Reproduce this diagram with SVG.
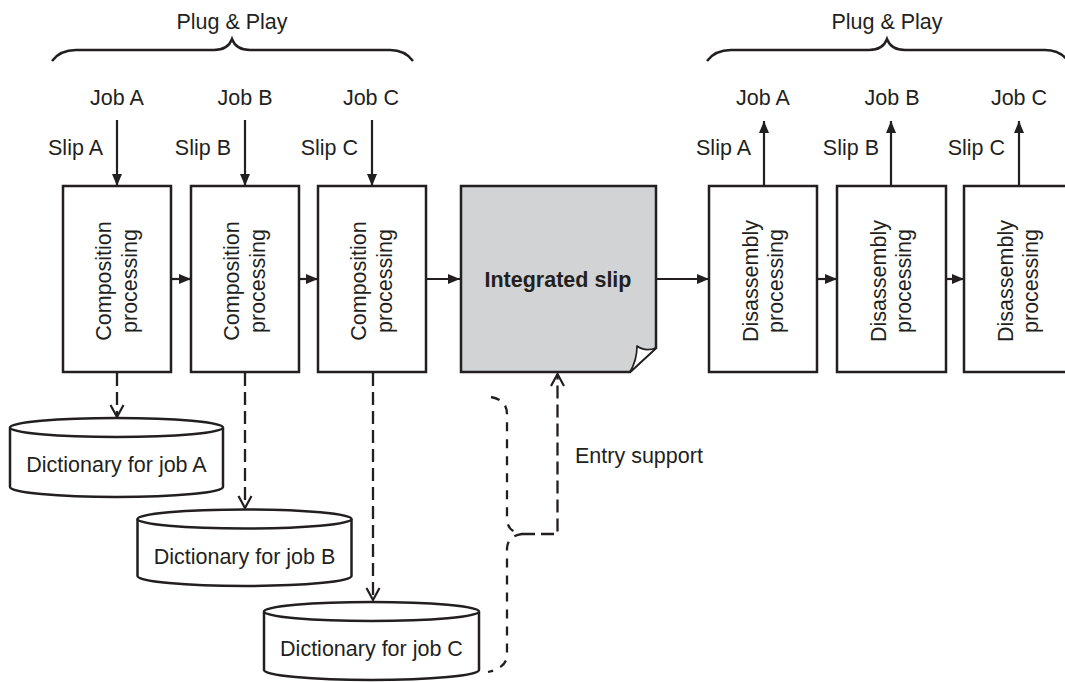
<svg xmlns="http://www.w3.org/2000/svg" width="1065" height="682" viewBox="0 0 1065 682">
<style>
text{font-family:"Liberation Sans",Arial,Helvetica,sans-serif;font-size:21.5px;fill:#231f20}
.mid{text-anchor:middle}
.end{text-anchor:end}
.box{fill:#fff;stroke:#231f20;stroke-width:2.5}
.ln{fill:none;stroke:#231f20;stroke-width:2.2}
.dash{fill:none;stroke:#231f20;stroke-width:2.3;stroke-dasharray:13 6}
.bdash{fill:none;stroke:#231f20;stroke-width:2.3;stroke-dasharray:9 8}
.brace{fill:none;stroke:#231f20;stroke-width:2.4}
</style>
<defs>
<marker id="arr" markerUnits="userSpaceOnUse" markerWidth="12" markerHeight="10" refX="12" refY="5" orient="auto">
<path d="M0,0 L12,5 L0,10 Z" fill="#231f20"/>
</marker>
<marker id="open" markerUnits="userSpaceOnUse" markerWidth="16" markerHeight="16" refX="13" refY="8" orient="auto">
<path d="M1,1.5 L13,8 L1,14.5" fill="none" stroke="#231f20" stroke-width="2.2"/>
</marker>
</defs>

<g id="braces">
<path class="brace" d="M52,61 Q60,50 76,50 L214,50 Q228,50 232,39 Q236,50 250,50 L390,50 Q405,50 413,61"/>
<text class="mid" x="232" y="29">Plug &amp; Play</text>
<path class="brace" d="M707,61 Q715,50 731,50 L869,50 Q883,50 887,39 Q891,50 905,50 L1045,50 Q1060,50 1068,61"/>
<text class="mid" x="887" y="29">Plug &amp; Play</text>
</g>

<g id="labels">
<text class="mid" x="117" y="105">Job A</text>
<text class="mid" x="245" y="105">Job B</text>
<text class="mid" x="371" y="105">Job C</text>
<text class="end" x="103" y="155">Slip A</text>
<text class="end" x="231" y="155">Slip B</text>
<text class="end" x="358" y="155">Slip C</text>
<text class="mid" x="763" y="105">Job A</text>
<text class="mid" x="892" y="105">Job B</text>
<text class="mid" x="1019" y="105">Job C</text>
<text class="end" x="751" y="155">Slip A</text>
<text class="end" x="879" y="155">Slip B</text>
<text class="end" x="1005" y="155">Slip C</text>
<text x="575" y="463">Entry support</text>
</g>

<g id="connectors">
<line class="ln" x1="117" y1="120" x2="117" y2="186" marker-end="url(#arr)"/>
<line class="ln" x1="245" y1="120" x2="245" y2="186" marker-end="url(#arr)"/>
<line class="ln" x1="372" y1="120" x2="372" y2="186" marker-end="url(#arr)"/>
<line class="ln" x1="171" y1="279" x2="191" y2="279" marker-end="url(#arr)"/>
<line class="ln" x1="299" y1="279" x2="318" y2="279" marker-end="url(#arr)"/>
<line class="ln" x1="426" y1="279" x2="460" y2="279" marker-end="url(#arr)"/>
<line class="ln" x1="656" y1="279" x2="709" y2="279" marker-end="url(#arr)"/>
<line class="ln" x1="817" y1="279" x2="837" y2="279" marker-end="url(#arr)"/>
<line class="ln" x1="946" y1="279" x2="964" y2="279" marker-end="url(#arr)"/>
<line class="ln" x1="764" y1="186" x2="764" y2="121" marker-end="url(#arr)"/>
<line class="ln" x1="891" y1="186" x2="891" y2="121" marker-end="url(#arr)"/>
<line class="ln" x1="1019" y1="186" x2="1019" y2="121" marker-end="url(#arr)"/>
<line class="dash" x1="117" y1="373" x2="117" y2="417" marker-end="url(#open)"/>
<line class="dash" x1="245" y1="373" x2="245" y2="508" marker-end="url(#open)"/>
<line class="dash" x1="373" y1="373" x2="373" y2="600" marker-end="url(#open)"/>
<path class="dash" d="M522,534 L557.5,534 L557.5,374" marker-end="url(#open)"/>
<path class="bdash" d="M491,397 Q507,400 507,414 L507,520 Q508,532 522,534 Q508,536 507,548 L507,656 Q506,668 488,672"/>
</g>

<g id="comp-a">
<rect class="box" x="63" y="186" width="108" height="186"/>
<text class="mid" transform="translate(111,281) rotate(-90)">Composition</text>
<text class="mid" transform="translate(137,281) rotate(-90)">processing</text>
</g>
<g id="comp-b">
<rect class="box" x="191" y="186" width="108" height="186"/>
<text class="mid" transform="translate(239,281) rotate(-90)">Composition</text>
<text class="mid" transform="translate(265,281) rotate(-90)">processing</text>
</g>
<g id="comp-c">
<rect class="box" x="318" y="186" width="108" height="186"/>
<text class="mid" transform="translate(366,281) rotate(-90)">Composition</text>
<text class="mid" transform="translate(392,281) rotate(-90)">processing</text>
</g>

<g id="integrated-slip">
<path d="M461,186 L656,186 L656,348 L630,372 L461,372 Z" fill="#d1d3d4" stroke="#231f20" stroke-width="2.5"/>
<path d="M630,372 L656,348 Q645,352 637,346 Q637,360 630,372 Z" fill="#fff" stroke="#231f20" stroke-width="1.7" stroke-linejoin="round"/>
<text class="mid" x="558" y="287" font-weight="bold">Integrated slip</text>
</g>

<g id="dis-a">
<rect class="box" x="709" y="186" width="108" height="186"/>
<text class="mid" transform="translate(758,281) rotate(-90)">Disassembly</text>
<text class="mid" transform="translate(783,281) rotate(-90)">processing</text>
</g>
<g id="dis-b">
<rect class="box" x="837" y="186" width="109" height="186"/>
<text class="mid" transform="translate(886,281) rotate(-90)">Disassembly</text>
<text class="mid" transform="translate(911,281) rotate(-90)">processing</text>
</g>
<g id="dis-c">
<rect class="box" x="964" y="186" width="108" height="186"/>
<text class="mid" transform="translate(1013,281) rotate(-90)">Disassembly</text>
<text class="mid" transform="translate(1038,281) rotate(-90)">processing</text>
</g>

<g id="dict-a">
<path class="box" d="M10,427.5 L10,487 A106.5,10 0 0 0 223,487 L223,427.5"/>
<ellipse class="box" cx="116.5" cy="427.5" rx="106.5" ry="9.5"/>
<text class="mid" x="116.5" y="472">Dictionary for job A</text>
</g>
<g id="dict-b">
<path class="box" d="M137.5,519 L137.5,576 A107,10 0 0 0 351.5,576 L351.5,519"/>
<ellipse class="box" cx="244.5" cy="519" rx="107" ry="9.5"/>
<text class="mid" x="244.5" y="564">Dictionary for job B</text>
</g>
<g id="dict-c">
<path class="box" d="M264,611.5 L264,670 A107.5,10 0 0 0 479,670 L479,611.5"/>
<ellipse class="box" cx="371.5" cy="611.5" rx="107.5" ry="9.5"/>
<text class="mid" x="371.5" y="656">Dictionary for job C</text>
</g>
</svg>
